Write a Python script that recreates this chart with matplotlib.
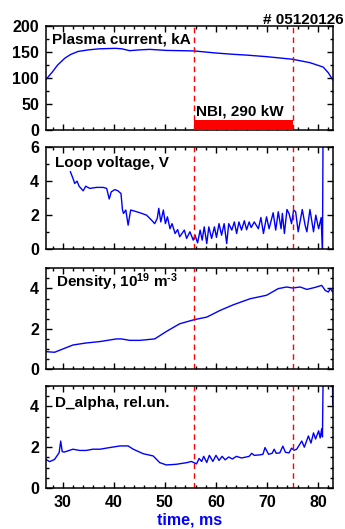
import matplotlib
matplotlib.use("Agg")
import matplotlib.pyplot as plt
from matplotlib.ticker import MultipleLocator

plt.rcParams['font.family'] = ['Liberation Sans', 'DejaVu Sans']
plt.rcParams['font.weight'] = 'bold'
plt.rcParams['mathtext.fontset'] = 'custom'
plt.rcParams['mathtext.rm'] = 'Liberation Sans:bold'
plt.rcParams['mathtext.bf'] = 'Liberation Sans:bold'
plt.rcParams['mathtext.default'] = 'bf'

shot = '# 05120126'
nbi_start, nbi_end, nbi_power = 55.7, 75.0, 290
nbi_bar_height = 19

# Plasma current, kA
ip_t = [26.7, 28.0, 29.0, 30.4, 31.5, 33.0, 35.0, 37.1, 40.3, 41.6, 43.1, 45.0,
        47.0, 50.3, 55.7, 60.0, 63.4, 66.0, 69.9, 73.0, 75.0, 78.4, 81.0, 82.0, 82.9]
ip_val = [97, 112, 125, 138, 145, 151, 154, 156, 157, 156, 152.5, 154,
          155, 153, 152, 148, 145.5, 144, 141, 138, 136, 129.5, 121, 110, 96]

# Loop voltage, V
uloop_t = [31.5, 32.0, 32.35, 32.8, 33.2, 34.0, 34.5, 35.3, 36.6, 37.9, 38.6, 39.1,
           39.5, 40.2, 40.8, 41.4, 41.7, 41.9, 42.35, 42.8, 43.3, 43.9, 45.1, 46.4,
           47.4, 48.0, 48.5, 48.8, 49.2, 49.7, 50.1, 50.5, 51.0, 51.4, 52.0, 52.5,
           52.9, 53.8, 54.25, 54.9, 55.55, 55.9, 56.4, 56.9, 57.3, 57.7, 58.2, 58.6,
           59.15, 59.7, 60.1, 60.6, 61.1, 61.6, 62.1, 62.5, 63.1, 63.6, 64.05, 64.5,
           65.0, 65.55, 66.0, 66.5, 66.9, 67.5, 68.3, 68.8, 69.3, 69.9, 70.4, 71.2,
           71.7, 72.2, 72.75, 73.0, 73.4, 73.9, 74.3, 74.8, 75.2, 75.6, 76.1, 76.9,
           77.45, 77.8, 78.4, 79.1, 79.55, 80.1, 80.6, 80.85, 81.0]
uloop_val = [4.55, 4.16, 3.86, 4.0, 3.7, 3.43, 3.7, 3.57, 3.63, 3.63, 3.57, 2.95,
             3.37, 3.5, 3.43, 3.27, 2.3, 2.1, 2.3, 1.41, 2.3, 2.25, 2.14, 2.0,
             1.7, 1.5, 1.8, 2.4, 1.6, 2.3, 1.5, 1.9, 1.2, 1.5, 0.92, 1.15,
             0.73, 1.12, 0.63, 1.02, 0.53, 0.82, 0.37, 1.12, 0.53, 1.31, 0.33, 1.31,
             0.63, 1.31, 0.69, 1.5, 0.82, 1.5, 0.33, 1.5, 1.12, 1.6, 0.92, 1.6,
             1.12, 1.67, 1.14, 1.6, 1.27, 1.6, 1.2, 1.86, 0.92, 1.9, 1.2, 2.14,
             1.12, 2.2, 1.2, 2.1, 0.92, 2.33, 2.1, 1.5, 2.3, 2.2, 1.02, 2.33,
             1.41, 1.02, 2.33, 1.02, 2.0, 1.2, 1.86, -0.3, 9.0]

# Density, 1e19 m^-3
ne_t = [26.7, 28.4, 30.0, 32.0, 34.6, 37.3, 40.5, 41.5, 43.1, 45.1, 48.0, 50.3,
        52.9, 55.7, 58.2, 60.8, 63.4, 66.7, 69.9, 72.2, 73.85, 75.0, 76.5, 77.8,
        79.4, 80.7, 81.4, 82.0, 82.4, 82.9]
ne_val = [0.87, 0.84, 1.0, 1.2, 1.3, 1.37, 1.5, 1.5, 1.43, 1.43, 1.5, 1.87,
          2.25, 2.45, 2.58, 2.91, 3.19, 3.49, 3.66, 3.99, 4.07, 4.02, 4.07, 3.95,
          4.05, 4.15, 3.9, 3.82, 4.0, 3.8]

# D_alpha, rel. units
da_t = [26.7, 27.45, 28.4, 29.3, 29.6, 29.9, 30.3, 32.0, 33.3, 34.6, 35.9, 37.3,
        39.2, 41.2, 42.8, 43.8, 45.75, 47.7, 49.0, 50.3, 52.2, 54.25, 55.2, 56.2,
        56.7, 57.2, 57.6, 58.2, 58.7, 59.4, 60.0, 60.6, 61.2, 61.8, 62.5, 63.2,
        64.0, 65.0, 66.5, 67.0, 67.5, 68.5, 69.2, 69.6, 70.3, 71.0, 71.4, 71.8,
        72.5, 73.1, 73.6, 74.3, 74.8, 75.3, 75.8, 76.8, 77.3, 78.1, 78.6, 79.1,
        79.5, 80.1, 80.4, 80.7, 80.85, 81.05, 82.8, 82.85, 82.9]
da_val = [1.4, 1.29, 1.4, 1.73, 2.3, 1.78, 1.76, 1.9, 1.84, 1.84, 1.9, 1.9,
          1.98, 2.06, 2.06, 1.9, 1.68, 1.57, 1.24, 1.13, 1.16, 1.24, 1.3, 1.18,
          1.45, 1.3, 1.55, 1.25, 1.6, 1.3, 1.6, 1.35, 1.55, 1.38, 1.52, 1.42,
          1.55, 1.47, 1.55, 1.7, 1.6, 1.62, 1.65, 1.98, 1.65, 1.7, 1.9, 1.7,
          1.72, 2.05, 1.75, 1.72, 1.95, 1.85, 1.9, 2.3, 2.0, 2.55, 2.2, 2.7,
          2.4, 2.8, 2.45, 2.9, 2.5, 7.0, 7.0, 4.1, 4.2]

panels = [
    (ip_t, ip_val, 'Plasma current, kA', (0, 200), 50, 25),
    (uloop_t, uloop_val, 'Loop voltage, V', (0, 6), 2, 1),
    (ne_t, ne_val, r'Density, 10$^{19}$ m$^{\text{-3}}$', (0, 5), 2, 0.5),
    (da_t, da_val, 'D_alpha, rel.un.', (0, 5), 2, 0.5),
]
# axes boxes in figure fractions: bottom, height
boxes = [(0.754, 0.197), (0.529, 0.193), (0.302, 0.191), (0.0775, 0.193)]
label_off = [(6, 14), (9, 16), (10, 14), (9, 17)]

fig = plt.figure(figsize=(3.45, 5.29), dpi=100)
axes = []
for (t, v, label, ylim, major, minor), (b, h), (dx, dy) in zip(panels, boxes, label_off):
    ax = fig.add_axes([0.133, b, 0.832, h])
    ax.plot(t, v, color='#0000ff', lw=1.0)
    ax.set_xlim(26.7, 82.9)
    ax.set_ylim(*ylim)
    ax.yaxis.set_major_locator(MultipleLocator(major))
    ax.yaxis.set_minor_locator(MultipleLocator(minor))
    ax.xaxis.set_major_locator(MultipleLocator(10))
    ax.xaxis.set_minor_locator(MultipleLocator(2))
    ax.tick_params(which='both', direction='in', top=True, right=True,
                   labelsize=11.5, width=1.0, pad=5)
    ax.tick_params(which='major', length=4)
    ax.tick_params(which='minor', length=2.5)
    for s in ax.spines.values():
        s.set_linewidth(1.1)
    for x in (nbi_start, nbi_end):
        ax.axvline(x, color='red', ls=(0, (4, 3)), lw=1.0)
    ax.annotate(label, xy=(0, 1), xycoords='axes fraction',
                xytext=(dx, -dy), textcoords='offset pixels',
                ha='left', va='center', fontsize=11, fontweight='bold')
    axes.append(ax)

for ax in axes[:-1]:
    ax.tick_params(labelbottom=False)

# NBI bar
ax0 = axes[0]
ax0.fill_between([nbi_start, nbi_end], 0, nbi_bar_height, color='red', lw=0, zorder=3)
ax0.text(nbi_start + 0.4, nbi_bar_height + 3, f'NBI, {nbi_power} kW',
         ha='left', va='bottom', fontsize=11, fontweight='bold')

fig.text(0.995, 0.962, shot, ha='right', va='center', fontsize=11, fontweight='bold')
fig.text(0.549, 0.017, 'time, ms', color='#0000ff', fontsize=11.5, fontweight='bold',
         ha='center', va='center')

fig.savefig('out.png', dpi=100)
